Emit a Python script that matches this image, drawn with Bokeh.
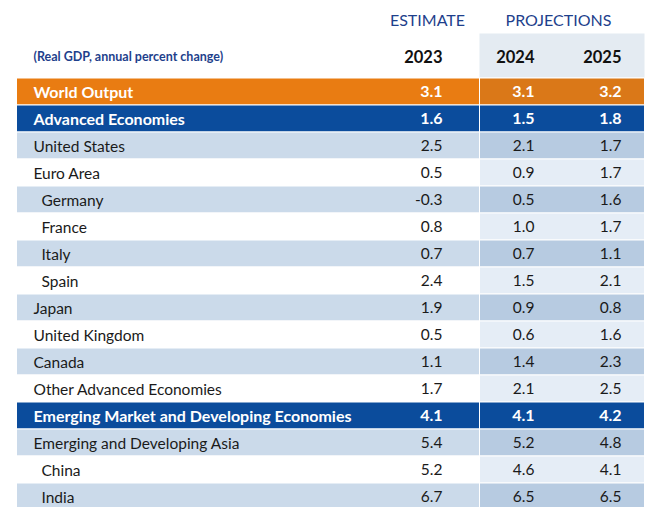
from bokeh.plotting import figure
from bokeh.models import Range1d, ColumnDataSource
from bokeh.core.properties import value
from bokeh.embed import file_html
from bokeh.resources import INLINE

# ---- data ----
rows = ["World Output", "Advanced Economies", "United States", "Euro Area", "Germany",
        "France", "Italy", "Spain", "Japan", "United Kingdom", "Canada",
        "Other Advanced Economies", "Emerging Market and Developing Economies",
        "Emerging and Developing Asia", "China", "India"]
v2023 = [3.1, 1.6, 2.5, 0.5, -0.3, 0.8, 0.7, 2.4, 1.9, 0.5, 1.1, 1.7, 4.1, 5.4, 5.2, 6.7]
v2024 = [3.1, 1.5, 2.1, 0.9, 0.5, 1.0, 0.7, 1.5, 0.9, 0.6, 1.4, 2.1, 4.1, 5.2, 4.6, 6.5]
v2025 = [3.2, 1.8, 1.7, 1.7, 1.6, 1.7, 1.1, 2.1, 0.8, 1.6, 2.3, 2.5, 4.2, 4.8, 4.1, 6.5]
kinds = ["world", "group", "light", "white", "light", "white", "light", "white", "light",
         "white", "light", "white", "group", "light", "white", "light"]
indented = ["Germany", "France", "Italy", "Spain", "China", "India"]
years = ["2023", "2024", "2025"]
col_groups = ["ESTIMATE", "PROJECTIONS"]
subtitle = "(Real GDP, annual percent change)"

# ---- styling ----
FONT = "Lato"
fill_main = {"world": "#E97C12", "group": "#0B4C9C", "light": "#CBDAEA", "white": "#FFFFFF"}
fill_proj = {"world": "#DA7818", "group": "#0B4C9C", "light": "#B7CBE1", "white": "#E5EDF6"}
txt_col = {"world": "#FFFFFF", "group": "#FFFFFF", "light": "#1A1A1A", "white": "#1A1A1A"}
weight = {"world": "bold", "group": "bold", "light": "normal", "white": "normal"}
fsize = {"world": "16px", "group": "16px", "light": "15.5px", "white": "15.5px"}

W, H = 650, 507
p = figure(width=W, height=H, output_backend="svg", toolbar_location=None,
           x_range=Range1d(0, W), y_range=Range1d(H, 0), min_border=0)
p.axis.visible = False
p.grid.visible = False
p.outline_line_color = None
p.background_fill_color = "#FFFFFF"
p.border_fill_color = "#FFFFFF"

T0, RH = 77.5, 27.0
L, R, PL = 16, 644, 479
tops = [T0 + i * RH for i in range(len(rows))]
bots = [t + RH for t in tops]
mids = [t + RH / 2 for t in tops]

# header shading for projection columns
p.quad(left=[PL], right=[R], top=[33], bottom=[T0], fill_color="#E4EBF2",
       line_color=None)

# row backgrounds
src = ColumnDataSource(dict(top=tops, bottom=bots,
                            fm=[fill_main[k] for k in kinds],
                            fp=[fill_proj[k] for k in kinds]))
p.quad(left=L, right=R, top="top", bottom="bottom", fill_color="fm", source=src,
       line_color="#FFFFFF", line_width=1)
p.quad(left=PL, right=R, top="top", bottom="bottom", fill_color="fp", source=src,
       line_color="#FFFFFF", line_width=1)

# row labels
lab = ColumnDataSource(dict(
    x=[41 if r in indented else 33 for r in rows], y=mids, t=rows,
    c=[txt_col[k] for k in kinds], w=[weight[k] for k in kinds],
    s=[fsize[k] for k in kinds]))
p.text(x="x", y="y", text="t", text_color="c", text_font_style="w", source=lab,
       text_font=value(FONT), text_font_size="s", text_baseline="middle",
       text_align="left")

# values
xs = [442, 534, 621]
for xv, vals in zip(xs, [v2023, v2024, v2025]):
    s = ColumnDataSource(dict(x=[xv] * len(vals), y=mids,
                              t=["{:.1f}".format(v) for v in vals],
                              c=[txt_col[k] for k in kinds],
                              w=[weight[k] for k in kinds],
                              s=[fsize[k] for k in kinds]))
    p.text(x="x", y="y", text="t", text_color="c", text_font_style="w", source=s,
           text_font=value(FONT), text_font_size="s", text_baseline="middle",
           text_align="right")

# year headers
p.text(x=xs, y=[56] * 3, text=years, text_color="#111111", text_font_style="bold",
       text_font=value(FONT), text_font_size="16.5px", text_baseline="middle",
       text_align="right")

# group headers
p.text(x=[427, 558], y=[19, 19], text=col_groups, text_color="#1E3F8C",
       text_font=value(FONT), text_font_size="16px", text_baseline="middle",
       text_align="center")

# subtitle
p.text(x=[33], y=[56], text=[subtitle], text_color="#1E3F8C", text_font_style="bold",
       text_font=value(FONT), text_font_size="12.5px", text_baseline="middle",
       text_align="left")

open("out.html", "w").write(file_html(p, INLINE))
